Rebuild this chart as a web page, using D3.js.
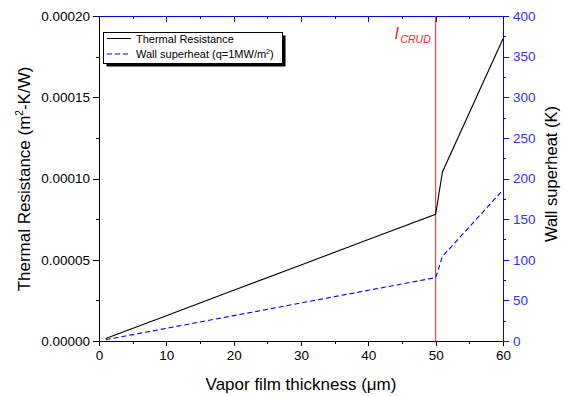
<!DOCTYPE html>
<html>
<head>
<meta charset="utf-8">
<script src="https://cdn.jsdelivr.net/npm/d3@7"></script>
<style>
  body { margin: 0; background: #fff; }
  svg { font-family: "Liberation Sans", Arial, sans-serif; }
  .axis path, .axis line { shape-rendering: crispEdges; }
</style>
</head>
<body>
<svg id="chart" width="566" height="396"></svg>
<script>
// values
var thickness  = [1, 10, 20, 30, 40, 50, 51, 60];               // um
var resistance = [0.0000016, 0.0000156, 0.0000312, 0.0000468, 0.0000624, 0.000078, 0.000104, 0.000186];
var superheat  = [1.6, 15.6, 31.2, 46.8, 62.4, 78, 104, 186];  // K
var xTicks = [0, 10, 20, 30, 40, 50, 60];
var leftTicks = [0, 0.00005, 0.0001, 0.00015, 0.0002];
var rightTicks = [0, 50, 100, 150, 200, 250, 300, 350, 400];
var crudAt = 50;

var blue = "#0000ff";
var svg = d3.select("#chart");

// plot box (note: "top" is reserved on window, so use other names)
var pLeft = 99, pRight = 503, pTop = 16, pBottom = 341;

var x = d3.scaleLinear().domain([0, 60]).range([pLeft, pRight]);
var yL = d3.scaleLinear().domain([0, 0.0002]).range([pBottom, pTop]);
var yR = d3.scaleLinear().domain([0, 400]).range([pBottom, pTop]);

function minors(ticks) {
    var out = [];
    for (var i = 0; i < ticks.length - 1; i++) out.push((ticks[i] + ticks[i + 1]) / 2);
    return out;
}

// bottom axis
var gx = svg.append("g").attr("class", "axis").attr("transform", "translate(0," + pBottom + ")");
gx.call(d3.axisBottom(x).tickValues(xTicks).tickSize(5).tickSizeOuter(0).tickPadding(4));
gx.append("g").call(d3.axisBottom(x).tickValues(minors(xTicks)).tickSize(3).tickFormat(""))
    .select(".domain").remove();
gx.selectAll("text").attr("font-size", "13.5px").attr("fill", "#000").attr("font-family", null);

// top axis (blue, ticks inward)
var gt = svg.append("g").attr("class", "axis").attr("transform", "translate(0," + pTop + ")");
gt.call(d3.axisBottom(x).tickValues(xTicks).tickSize(6).tickSizeOuter(0).tickFormat(""));
gt.append("g").call(d3.axisBottom(x).tickValues(minors(xTicks)).tickSize(3).tickFormat(""))
    .select(".domain").remove();
gt.selectAll("path, line").attr("stroke", blue);

// left axis
var gl = svg.append("g").attr("class", "axis").attr("transform", "translate(" + pLeft + ",0)");
gl.call(d3.axisLeft(yL).tickValues(leftTicks).tickSize(6).tickSizeOuter(0).tickPadding(3)
    .tickFormat(d3.format(".5f")));
gl.append("g").call(d3.axisLeft(yL).tickValues(minors(leftTicks)).tickSize(3).tickFormat(""))
    .select(".domain").remove();
gl.selectAll("text").attr("font-size", "13.5px").attr("fill", "#000").attr("font-family", null);

// right axis (blue)
var gr = svg.append("g").attr("class", "axis").attr("transform", "translate(" + pRight + ",0)");
gr.call(d3.axisRight(yR).tickValues(rightTicks).tickSize(6).tickSizeOuter(0).tickPadding(4));
gr.append("g").call(d3.axisRight(yR).tickValues(minors(rightTicks)).tickSize(3).tickFormat(""))
    .select(".domain").remove();
gr.selectAll("path, line").attr("stroke", blue);
gr.selectAll("text").attr("font-size", "13.5px").attr("fill", "#3333ff").attr("font-family", null);

// red marker line for l_CRUD
svg.append("line")
    .attr("x1", x(crudAt)).attr("x2", x(crudAt))
    .attr("y1", pTop).attr("y2", pBottom)
    .attr("stroke", "#ff1a1a").attr("stroke-width", 1);

var lab = svg.append("text")
    .attr("x", x(crudAt) - 41).attr("y", 39)
    .attr("fill", "#ff1a1a").attr("font-style", "italic").attr("font-size", "17px");
lab.append("tspan").text("l");
lab.append("tspan").attr("font-size", "10.5px").attr("dy", 4).attr("dx", 2).text("CRUD");

// series
var lineR = d3.line()
    .x(function (d, i) { return x(thickness[i]); })
    .y(function (d) { return yL(d); });
var lineS = d3.line()
    .x(function (d, i) { return x(thickness[i]); })
    .y(function (d) { return yR(d); });

svg.append("path").datum(resistance)
    .attr("d", lineR)
    .attr("fill", "none").attr("stroke", "#000").attr("stroke-width", 1.1);

svg.append("path").datum(superheat)
    .attr("d", lineS)
    .attr("fill", "none").attr("stroke", blue).attr("stroke-width", 1.1)
    .attr("stroke-dasharray", "5,3");

// axis titles
svg.append("text")
    .attr("x", (pLeft + pRight) / 2).attr("y", 390)
    .attr("text-anchor", "middle").attr("font-size", "17px")
    .text("Vapor film thickness (\u03bcm)");

var tl = svg.append("text")
    .attr("transform", "translate(30,179) rotate(-90)")
    .attr("text-anchor", "middle").attr("font-size", "17px");
tl.append("tspan").text("Thermal Resistance (m");
tl.append("tspan").attr("font-size", "10px").attr("dy", -7).text("2");
tl.append("tspan").attr("dy", 7).text("-K/W)");

svg.append("text")
    .attr("transform", "translate(557,174) rotate(-90)")
    .attr("text-anchor", "middle").attr("font-size", "16.5px")
    .text("Wall superheat (K)");

// legend with drop shadow
var lg = svg.append("g").attr("transform", "translate(103,32)");
lg.append("rect").attr("x", 3.5).attr("y", 3.5).attr("width", 179).attr("height", 31).attr("fill", "#000");
lg.append("rect").attr("x", 0.5).attr("y", 0.5).attr("width", 179).attr("height", 31)
    .attr("fill", "#fff").attr("stroke", "#000");
lg.append("line").attr("x1", 4).attr("x2", 28).attr("y1", 6.5).attr("y2", 6.5)
    .attr("stroke", "#000");
lg.append("line").attr("x1", 4).attr("x2", 28).attr("y1", 22).attr("y2", 22)
    .attr("stroke", blue).attr("stroke-dasharray", "5,3");
lg.append("text").attr("x", 33).attr("y", 11).attr("font-size", "11px").text("Thermal Resistance");
var t2 = lg.append("text").attr("x", 33).attr("y", 26).attr("font-size", "11px");
t2.append("tspan").text("Wall superheat (q=1MW/m");
t2.append("tspan").attr("font-size", "7px").attr("dy", -4).text("2");
t2.append("tspan").attr("dy", 4).text(")");
</script>
</body>
</html>
